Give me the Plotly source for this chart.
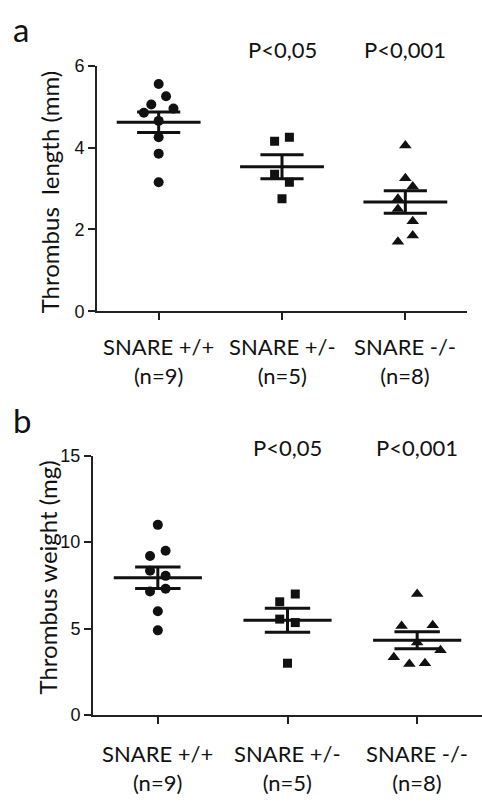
import numpy as np
import plotly.graph_objects as go

# ---------------- data ----------------
categories = ["SNARE +/+", "SNARE +/-", "SNARE -/-"]
n_labels = ["(n=9)", "(n=5)", "(n=8)"]
p_labels = ["", "P<0,05", "P<0,001"]

length_wt = [5.55, 5.25, 5.05, 4.85, 4.95, 4.65, 4.25, 3.85, 3.15]
length_het = [4.15, 4.25, 3.35, 3.15, 2.75]
length_ko = [4.05, 3.25, 3.05, 2.75, 2.5, 2.2, 1.85, 1.7]

weight_wt = [11.0, 9.5, 9.2, 8.35, 8.05, 7.15, 7.3, 6.0, 4.9]
weight_het = [7.0, 6.55, 5.55, 5.35, 3.0]
weight_ko = [7.0, 5.15, 5.2, 4.2, 3.75, 3.35, 2.95, 3.0]

length_ticks = [0, 2, 4, 6]
weight_ticks = [0, 5, 10, 15]

# ---------------- style ----------------
W, H = 482, 807
INK = "#111111"
symbols = ["circle", "square", "triangle-up"]
msizes = [10, 9, 11]
# scatter slot (horizontal spread) per point, purely presentational
slots_length = [[0, 1, -1, -2, 2, 0, 0, 0, 0], [-1, 1, -1, 1, 0], [0, 0, 1, -1, -1, 1, 1, -1]]
slots_weight = [[0, 1, -1, -1, 1, -1, 1, 0, 0], [1, -1, -1, 1, 0], [0, -2, 2, 0, 3, -3, -1, 1]]
STEP = 0.06
MEAN_HW = 0.34
CAP_HW = 0.175
LABEL_FONT = "Lato"
TICK_FONT = "Liberation Sans"


def py(px):
    return (H - px) / H


fig = go.Figure()


def add_panel(groups, slots, xa, ya):
    for i, (vals, sl) in enumerate(zip(groups, slots)):
        xs = [i + s * STEP for s in sl]
        fig.add_trace(go.Scatter(
            x=xs, y=vals, mode="markers", xaxis=xa, yaxis=ya,
            marker=dict(symbol=symbols[i], size=msizes[i], color=INK, line=dict(width=0)),
            showlegend=False, hoverinfo="skip"))
        v = np.array(vals, dtype=float)
        m = v.mean()
        sem = v.std(ddof=1) / np.sqrt(len(v))
        lx = [i - MEAN_HW, i + MEAN_HW, None,
              i - CAP_HW, i + CAP_HW, None,
              i - CAP_HW, i + CAP_HW, None,
              i, i]
        ly = [m, m, None,
              m + sem, m + sem, None,
              m - sem, m - sem, None,
              m - sem, m + sem]
        fig.add_trace(go.Scatter(
            x=lx, y=ly, mode="lines", xaxis=xa, yaxis=ya,
            line=dict(color=INK, width=3), showlegend=False, hoverinfo="skip"))


add_panel([length_wt, length_het, length_ko], slots_length, "x", "y")
add_panel([weight_wt, weight_het, weight_ko], slots_weight, "x2", "y2")

axis_common = dict(showline=True, linewidth=2, linecolor="#222222", showgrid=False,
                   zeroline=False, ticks="outside", tickwidth=2, tickcolor="#222222")
tick_font = dict(family=TICK_FONT, size=18, color="#111")

fig.update_layout(
    width=W, height=H, margin=dict(l=0, r=0, t=0, b=0),
    paper_bgcolor="white", plot_bgcolor="white",
    xaxis=dict(domain=[97 / W, 467 / W], range=[-0.5, 2.5], anchor="y",
               tickvals=[0, 1, 2], ticklen=7, showticklabels=False, **axis_common),
    yaxis=dict(domain=[py(309), py(57)], range=[0, 6], anchor="x",
               tickvals=length_ticks, ticklen=7, tickfont=tick_font, **axis_common),
    xaxis2=dict(domain=[93 / W, 1.0], range=[-0.5, 2.5], anchor="y2",
                tickvals=[0, 1, 2], ticklen=7, showticklabels=False, **axis_common),
    yaxis2=dict(domain=[py(723), py(457)], range=[0, 15], anchor="x2",
                tickvals=weight_ticks, ticklen=7, tickfont=tick_font, **axis_common),
)

ann = []
lab_font = dict(family=LABEL_FONT, size=22, color="#111")
title_font = dict(family=LABEL_FONT, size=24, color="#111")
letter_font = dict(family=LABEL_FONT, size=33, color="#111")
# panel letters
ann.append(dict(text="a", x=11 / W, y=py(-3), xref="paper", yref="paper", xanchor="left",
                yanchor="top", showarrow=False, font=letter_font))
ann.append(dict(text="b", x=11 / W, y=py(398), xref="paper", yref="paper", xanchor="left",
                yanchor="top", showarrow=False, font=letter_font))
# y titles
ann.append(dict(text="Thrombus  length (mm)", x=49 / W, y=py(187), xref="paper", yref="paper",
                textangle=-90, showarrow=False, font=title_font, xanchor="center", yanchor="middle"))
ann.append(dict(text="Thrombus weight (mg)", x=48 / W, y=py(582), xref="paper", yref="paper",
                textangle=-90, showarrow=False, font=title_font, xanchor="center", yanchor="middle"))
# category labels and p-values
for i, (c, n, p) in enumerate(zip(categories, n_labels, p_labels)):
    ann.append(dict(text=f"{c}<br>{n}", x=i, y=py(329), xref="x", yref="paper",
                    xanchor="center", yanchor="top", showarrow=False, font=lab_font))
    ann.append(dict(text=f"{c}<br>{n}", x=i, y=py(746), xref="x2", yref="paper",
                    xanchor="center", yanchor="top", showarrow=False, font=lab_font))
    if p:
        ann.append(dict(text=p, x=i, y=py(41), xref="x", yref="paper",
                        xanchor="center", yanchor="middle", showarrow=False, font=lab_font))
        ann.append(dict(text=p, x=i, y=py(449), xref="x2", yref="paper",
                        xanchor="center", yanchor="middle", showarrow=False, font=lab_font))
fig.update_layout(annotations=ann)

fig.write_html("out.html")
